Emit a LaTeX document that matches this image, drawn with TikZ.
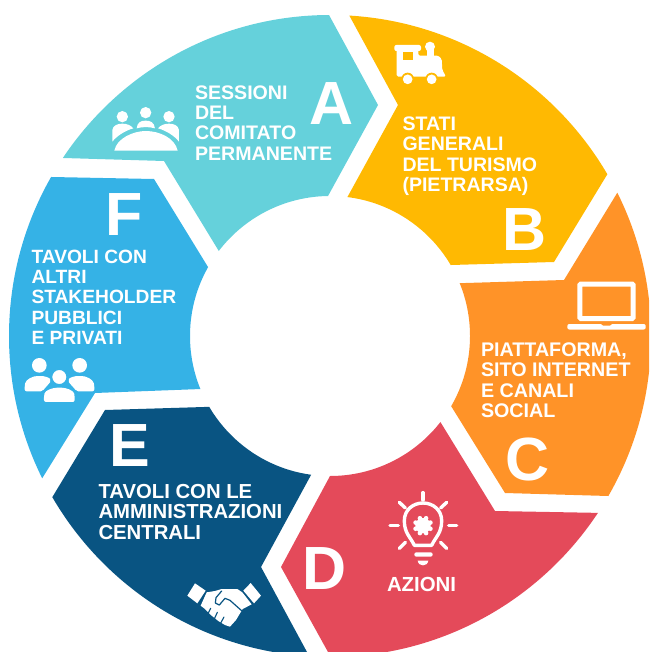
\documentclass[tikz,border=0pt]{standalone}
\usepackage{fontspec}
\setmainfont{Liberation Sans}
\definecolor{colA}{HTML}{65D1DB}
\definecolor{colB}{HTML}{FFB902}
\definecolor{colC}{HTML}{FF9328}
\definecolor{colD}{HTML}{E44A5A}
\definecolor{colE}{HTML}{095482}
\definecolor{colF}{HTML}{35B2E6}
\newcommand{\bodysize}[1]{\fontsize{#1}{20.3}\selectfont}
\tikzset{
  body/.style={anchor=north west,inner sep=0pt,outer sep=0pt,text=white,align=left,
    font=\bfseries\bodysize{#1}},
  big/.style={anchor=base,inner sep=0pt,outer sep=0pt,text=white,
    font=\bfseries\fontsize{61}{61}\selectfont},
  ray/.style={draw=white,line width=3.4pt,line cap=round},
}
\begin{document}
\begin{tikzpicture}[x=1pt,y=-1pt]
\useasboundingbox (0,0) rectangle (649,652);
\clip (0,0) rectangle (649,652);
\begin{scope}[even odd rule]
\clip (330,336) circle[radius=321] (330,336) circle[radius=140];
\fill[colA] (164,161) -- (40,157.3) -- (40,-30) -- (304.5,-30) -- (378,105) -- (300,247) -- (245,294) -- cycle;
\fill[colB] (398,105) -- (324.5,-30) -- (630,-30) -- (630,137) -- (554,262) -- (400,266.5) -- (323,241.5) -- cycle;
\fill[colC] (564,280) -- (633,167) -- (700,167) -- (700,498) -- (660,497.5) -- (505,493) -- (425,364) -- (400,285) -- cycle;
\fill[colD] (495,511) -- (660,514) -- (660,700) -- (351.5,694.5) -- (281,567) -- (354.5,430.5) -- (414,379) -- cycle;
\fill[colE] (105,410) -- (27,539) -- (27,700) -- (330,694.5) -- (261,567) -- (336,429) -- (270,405) -- cycle;
\fill[colF] (154,179) -- (-20,175.6) -- (-20,519) -- (17,519) -- (95,393) -- (270,386.4) -- (235,311) -- cycle;
\end{scope}

% big letters
\node[big] (la) at (332,124.3) {A};
\node[big] (lb) at (524.5,250) {B};
\node[big] (lc) at (527.5,480) {C};
\node[big] (ld) at (325,589.3) {D};
\node[big] (le) at (129.5,466.7) {E};
\node[big] (lf) at (124.5,235) {F};

% texts
\node[body=19.6] (ta) at (195,85.5) {SESSIONI\\DEL\\COMITATO\\PERMANENTE};
\node[body=19.55] (tb) at (402.5,117) {STATI\\GENERALI\\DEL TURISMO\\(PIETRARSA)};
\node[body=19.7] (tc) at (481,342.7) {PIATTAFORMA,\\SITO INTERNET\\E CANALI\\SOCIAL};
\node[body=20.4] (td) at (387,577.5) {AZIONI};
\node[body=20.3] (te) at (98.5,484.5) {TAVOLI CON LE\\AMMINISTRAZIONI\\CENTRALI};
\node[body=19.2] (tf) at (31.5,249.7) {TAVOLI CON\\ALTRI\\STAKEHOLDER\\PUBBLICI\\E PRIVATI};

% meeting icon
\begin{scope}[shift={(105,100)},scale=0.3333]
\fill[white] (52,50) circle[radius=17] (122,38) circle[radius=17] (192,50) circle[radius=17];
\fill[white] (22,125) -- (22,90) .. controls (24,76) and (38,71) .. (52,71) .. controls (66,71) and (78,76) .. (85,85) .. controls (60,92) and (35,108) .. (22,125) -- cycle;
\fill[white] (222,125) -- (222,90) .. controls (220,76) and (206,71) .. (192,71) .. controls (178,71) and (166,76) .. (159,85) .. controls (184,92) and (209,108) .. (222,125) -- cycle;
\fill[white] (95,85) .. controls (97,66) and (108,62) .. (122,62) .. controls (136,62) and (147,66) .. (150,85) .. controls (132,80) and (113,80) .. (95,85) -- cycle;
\fill[white] (28,152) .. controls (35,115) and (85,93) .. (122,93) .. controls (165,93) and (210,115) .. (218,152) -- cycle;
\end{scope}

% train icon
\begin{scope}[shift={(385,35)},scale=0.3333]
\fill[white,rounded corners=2pt] (28,30) rectangle (108,48);
\fill[white] (135,35) circle[radius=15];
\fill[white] (125,40) rectangle (146,70);
\fill[white,rounded corners=1.5pt] (35,40) -- (100,40) -- (100,62) -- (160,62) -- (170,72) -- (172,105) -- (183,125) -- (35,125) -- cycle;
\fill[colB] (54,52) rectangle (84,75);
\fill[colB] (68,132) circle[radius=19] (140,132) circle[radius=19];
\fill[white] (68,133) circle[radius=14.5] (140,133) circle[radius=14.5];
\end{scope}

% laptop icon
\draw[white,line width=5pt,rounded corners=1pt] (579.8,284.2) rectangle (633.2,318.5);
\fill[white,rounded corners=2pt] (567.3,324) rectangle (645.7,329.5);
\fill[colC] (601,324) -- (612,324) -- (610,325.5) -- (603,325.5) -- cycle;

% bulb icon
\begin{scope}[shift={(385,488)},scale=0.3333]
\draw[white,line width=3.4pt,line join=round] (88,172) .. controls (75,145) and (58,135) .. (58,98) .. controls (58,65) and (85,45) .. (114,45) .. controls (143,45) and (170,65) .. (170,98) .. controls (170,135) and (153,145) .. (140,172) -- cycle;
\fill[white] (114,113) circle[radius=23];
\foreach \a in {0,45,...,315} {\fill[white] (114,113) ++(\a+22.5:24) circle[radius=7];}
\fill[white,rounded corners=2pt] (88,193) rectangle (143,206);
\fill[white] (98,218) -- (130,218) .. controls (128,228) and (122,232) .. (114,232) .. controls (106,232) and (100,228) .. (98,218) -- cycle;
\draw[ray] (114,14) -- (114,36);
\draw[ray] (15,113) -- (40,113);
\draw[ray] (191,113) -- (215,113);
\draw[ray] (43,43) -- (61,60);
\draw[ray] (185,43) -- (167,60);
\draw[ray] (43,181) -- (61,163);
\draw[ray] (185,181) -- (167,163);
\end{scope}

% people icon
\begin{scope}[shift={(18,352)},scale=0.3333]
\fill[white] (64,40) circle[radius=22] (185,40) circle[radius=22];
\fill[white,rounded corners=2pt] (20,118) -- (20,100) .. controls (24,82) and (45,72) .. (64,72) .. controls (78,72) and (92,76) .. (100,85) .. controls (92,97) and (82,106) .. (74,118) -- cycle;
\fill[white,rounded corners=2pt] (229,118) -- (229,100) .. controls (225,82) and (204,72) .. (185,72) .. controls (171,72) and (157,76) .. (149,85) .. controls (157,97) and (167,106) .. (175,118) -- cycle;
\fill[white,draw=colF,line width=1.2pt] (124,75) circle[radius=23];
\fill[white,rounded corners=2pt] (78,150) -- (78,130) .. controls (82,115) and (104,107) .. (124,107) .. controls (144,107) and (166,115) .. (170,130) -- (170,150) -- cycle;
\end{scope}

% handshake icon
\begin{scope}[shift={(180,575)},scale=0.3333]
\fill[white] (45,25) -- (77,47) -- (52,85) -- (22,62) -- cycle;
\fill[white] (212,24) -- (243,62) -- (222,85) -- (190,47) -- cycle;
\fill[white] (80,52) -- (105,48) -- (125,42) -- (172,42) -- (187,52) -- (215,88) -- (188,102) -- (168,135) -- (150,155) -- (135,150) -- (115,138) -- (95,122) -- (75,102) -- (62,92) -- cycle;
\draw[colE,line width=1.2pt,line join=round,line cap=round] (125,48) -- (108,68) -- (106,84) -- (118,90) -- (135,70) -- (150,76) -- (186,108);
\draw[colE,line width=1.1pt,line cap=round] (92,100) -- (82,120);
\draw[colE,line width=1.1pt,line cap=round] (112,112) -- (102,134);
\draw[colE,line width=1.1pt,line cap=round] (132,126) -- (120,148);
\end{scope}
\end{tikzpicture}
\end{document}
